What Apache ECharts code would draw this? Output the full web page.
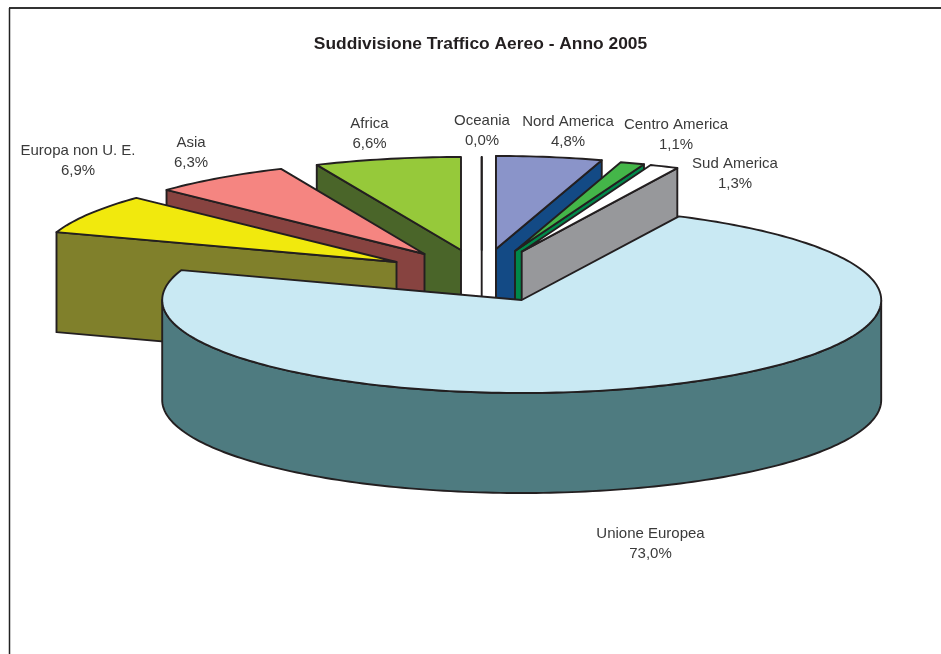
<!DOCTYPE html>
<html>
<head>
<meta charset="utf-8">
<style>html,body{margin:0;padding:0;background:#fff}#c{width:941px;height:654px}</style>
<script src="https://cdn.jsdelivr.net/npm/echarts@6/dist/echarts.min.js"></script>
</head>
<body>
<div id="c"></div>
<script>
// Data, clockwise from 12 o'clock
const categories = ['Nord America','Centro America','Sud America','Unione Europea','Europa non U. E.','Asia','Africa','Oceania'];
const shares = [4.8, 1.1, 1.3, 73.0, 6.9, 6.3, 6.6, 0.0];

// Styles
const topColors = ['#8a94c9','#44b649','#ffffff','#c9e9f3','#f1e90d','#f58581','#96c93a','#ffffff'];
const wallColors = ['#134a85','#00884a','#97989b','#4e7b80','#80802b','#874340','#4a6529','#ffffff'];
// Layout: the point each exploded slice hangs from, paint order, label anchors
const apexX = [496, 515, 521.7, 521.7, 396.5, 424.5, 461, 481.7];
const apexY = [249, 251, 251.7, 300, 262, 254, 250, 250];
const radiusX = [356, 356, 356, 359.5, 359, 356, 358, 356];
const paintOrder = [5, 6, 7, 8, 4, 3, 2, 1];
const labelX = [568, 676, 735, 650.5, 78, 191, 369.5, 482];
const labelY = [132, 135, 174, 543.5, 160.5, 153, 133.5, 131];
const RY = 93, DEPTH = 100, SUM = shares.reduce((a, b) => a + b, 0);
const INK = '#231f20', TEXT = '#3a3a3a', FONT = '"Liberation Sans", Arial, sans-serif';
const STROKE = 1.9;

const rad = p => p / SUM * 2 * Math.PI;
const startOf = i => shares.slice(0, i).reduce((a, b) => a + b, 0);

function pt(i, a, drop) {
  return [apexX[i] + radiusX[i] * Math.sin(a), apexY[i] - RY * Math.cos(a) + (drop || 0)];
}
function arc(i, a0, a1, drop) {
  const n = Math.max(2, Math.ceil(Math.abs(a1 - a0) / 0.02)), out = [];
  for (let k = 0; k <= n; k++) out.push(pt(i, a0 + (a1 - a0) * k / n, drop));
  return out;
}
function poly(points, fill, z2) {
  return {type:'polygon', z2, shape:{points}, style:{fill, stroke:INK, lineWidth:STROKE, lineJoin:'round'}};
}

function renderItem(params, api) {
  const i = params.dataIndex, v = api.value(0);
  const a0 = rad(startOf(i)), a1 = a0 + rad(v);
  const ap = [apexX[i], apexY[i]], apLow = [apexX[i], apexY[i] + DEPTH];
  const base = paintOrder[i] * 10, kids = [];
  const face = a => poly([ap, pt(i, a), pt(i, a, DEPTH), apLow], wallColors[i], base + 1);
  if (Math.sin(a0) <= 1e-9) kids.push(face(a0));
  if (v > 0 && Math.sin(a1) > 1e-9) kids.push(face(a1));
  const w0 = Math.max(a0, Math.PI / 2), w1 = Math.min(a1, 1.5 * Math.PI);
  if (w1 > w0) {
    kids.push(poly(arc(i, w0, w1, 0).concat(arc(i, w1, w0, DEPTH)), wallColors[i], base + 2));
  }
  kids.push(poly([ap].concat(arc(i, a0, a1, 0)), topColors[i], base + 3));
  const pct = v.toFixed(1).replace('.', ',') + '%';
  kids.push({type:'text', z2:200, x:labelX[i], y:labelY[i],
    style:{text:categories[i] + '\n' + pct, fill:TEXT, font:'15px ' + FONT, align:'center', verticalAlign:'middle', lineHeight:20}});
  return {type:'group', children:kids};
}

const chart = echarts.init(document.getElementById('c'), null, {renderer:'canvas'});
chart.setOption({
  animation:false,
  backgroundColor:'#fff',
  title:{text:'Suddivisione Traffico Aereo - Anno 2005', left:475.5, top:31, textAlign:'center',
    textStyle:{fontFamily:FONT, fontSize:17.4, fontWeight:'bold', color:'#231f20'}},
  graphic:[
    {type:'line', z:-1, shape:{x1:9,y1:8,x2:941,y2:8}, style:{stroke:'#333', lineWidth:2}},
    {type:'line', z:-1, shape:{x1:9.5,y1:8,x2:9.5,y2:654}, style:{stroke:'#222', lineWidth:1.5}}
  ],
  series:[{
    type:'custom', coordinateSystem:'none', silent:true, renderItem,
    data:shares.map(v => [v])
  }]
});
</script>
</body>
</html>
